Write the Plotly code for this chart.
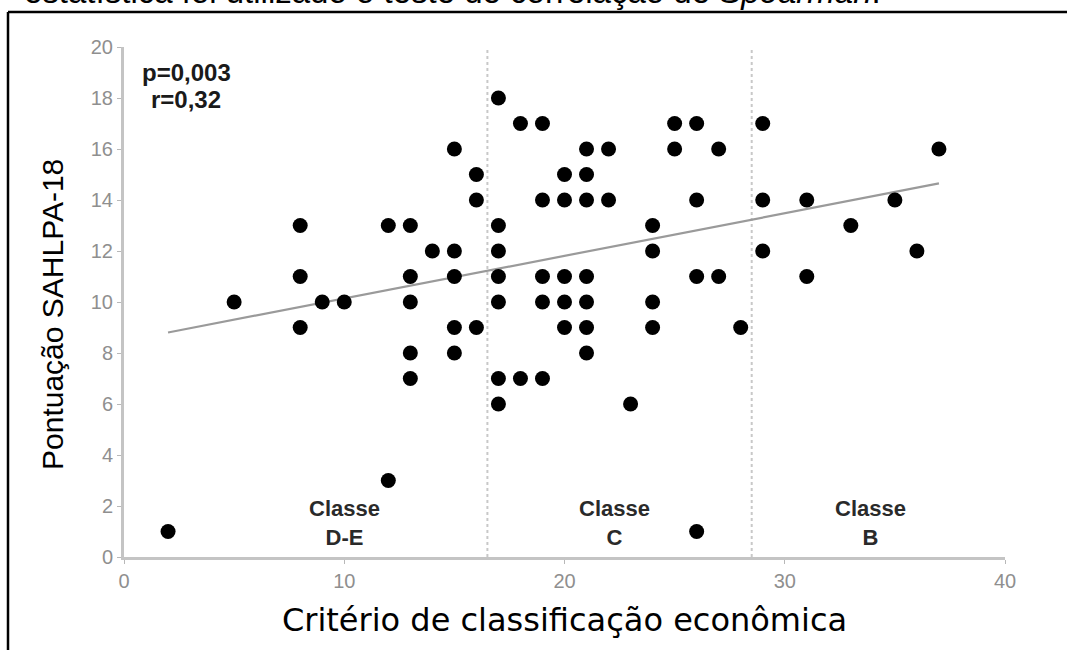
import plotly.graph_objects as go

# Economic classification score vs SAHLPA-18 score (one point per participant)
criterio = [2, 5, 8, 8, 8, 9, 10, 12, 12, 13, 13, 13, 13, 13, 14,
            15, 15, 15, 15, 15, 16, 16, 16,
            17, 17, 17, 17, 17, 17, 17, 18, 18,
            19, 19, 19, 19, 19, 20, 20, 20, 20, 20,
            21, 21, 21, 21, 21, 21, 21, 22, 22, 23,
            24, 24, 24, 24, 25, 25, 26, 26, 26, 26, 27, 27, 28,
            29, 29, 29, 31, 31, 33, 35, 36, 37]
sahlpa = [1, 10, 13, 11, 9, 10, 10, 13, 3, 13, 11, 10, 8, 7, 12,
          16, 12, 11, 9, 8, 15, 14, 9,
          18, 13, 12, 11, 10, 7, 6, 17, 7,
          17, 14, 11, 10, 7, 15, 14, 11, 10, 9,
          16, 15, 14, 11, 10, 9, 8, 16, 14, 6,
          13, 12, 10, 9, 17, 16, 17, 14, 11, 1, 16, 11, 9,
          17, 14, 12, 14, 11, 13, 14, 12, 16]

# Linear trend (intercept, slope) drawn over the observed range
trend_intercept = 8.47
trend_slope = 0.167

# Class boundaries and labels
class_cuts = [16.5, 28.5]
class_labels = ["Classe<br>D-E", "Classe<br>C", "Classe<br>B"]
class_label_x = [10, 22.25, 33.9]
class_label_y = 1.32

stats_text = ["p=0,003", "r=0,32"]

x_title = "Critério de classificação econômica"
y_title = "Pontuação SAHLPA-18"

x_ticks = [0, 10, 20, 30, 40]
y_ticks = [0, 2, 4, 6, 8, 10, 12, 14, 16, 18, 20]

W, H = 1067, 650
ML, MR, MT, MB = 124, 62, 47, 93
PW, PH = W - ML - MR, H - MT - MB

FONT = "Arial, Liberation Sans, sans-serif"


def px_x(p):
    return (p - ML) / PW


def px_y(p):
    return (H - MB - p) / PH


fit_x = [min(criterio), max(criterio)]
fit_y = [trend_intercept + trend_slope * v for v in fit_x]

fig = go.Figure()
fig.add_trace(go.Scatter(
    x=fit_x, y=fit_y, mode="lines",
    line=dict(color="#9a9a9a", width=2.2),
    hoverinfo="skip", showlegend=False,
))
fig.add_trace(go.Scatter(
    x=criterio, y=sahlpa, mode="markers",
    marker=dict(color="black", size=15, line=dict(width=0)),
    showlegend=False,
))

for c in class_cuts:
    fig.add_shape(type="line", xref="x", yref="y", x0=c, x1=c, y0=0, y1=20,
                  line=dict(color="#c8c8c8", width=2, dash="dot"), layer="below")

for lx, lt in zip(class_label_x, class_labels):
    fig.add_annotation(x=lx, y=class_label_y, xref="x", yref="y", text="<b>" + lt + "</b>",
                       showarrow=False, font=dict(family=FONT, size=22, color="#2a2a2a"))

for txt, ypx in zip(stats_text, [72, 100]):
    fig.add_annotation(x=px_x(186), y=px_y(ypx), xref="paper", yref="paper",
                       xanchor="center", yanchor="middle",
                       text="<b>" + txt + "</b>", showarrow=False,
                       font=dict(family=FONT, size=24, color="#1a1a1a"))

# Y-axis title placed as a rotated label
fig.add_annotation(x=px_x(52), y=px_y(315), xref="paper", yref="paper",
                   xanchor="center", yanchor="middle", textangle=-90,
                   text=y_title, showarrow=False,
                   font=dict(family=FONT, size=30, color="black"))

# Caption line running above the framed figure
fig.add_annotation(x=px_x(22), y=px_y(12), xref="paper", yref="paper",
                   xanchor="left", yanchor="bottom", showarrow=False,
                   text="estatística foi utilizado o teste de correlação de <i>Spearman</i>.",
                   font=dict(family=FONT, size=33, color="black"))

# Frame around the figure
fig.add_shape(type="line", xref="paper", yref="paper",
              x0=px_x(8), x1=px_x(1067), y0=px_y(12), y1=px_y(12),
              line=dict(color="black", width=2.5))
fig.add_shape(type="line", xref="paper", yref="paper",
              x0=px_x(8), x1=px_x(8), y0=px_y(12), y1=px_y(650),
              line=dict(color="black", width=2.5))

axis_common = dict(
    showgrid=False, zeroline=False, showline=True, linecolor="#c4c4c4", linewidth=3,
    ticks="outside", ticklen=4, tickcolor="#b8b8b8", tickwidth=1,
    tickfont=dict(family=FONT, size=20, color="#8f8f8f"),
)

fig.update_layout(
    width=W, height=H, margin=dict(l=ML, r=MR, t=MT, b=MB),
    plot_bgcolor="white", paper_bgcolor="white",
    xaxis=dict(range=[0, 40], tickvals=x_ticks, **axis_common,
               title=dict(text=x_title, standoff=18,
                          font=dict(family="DejaVu Sans, sans-serif", size=32, color="black"))),
    yaxis=dict(range=[0, 20], tickvals=y_ticks, **axis_common),
)

fig.write_html("out.html")
